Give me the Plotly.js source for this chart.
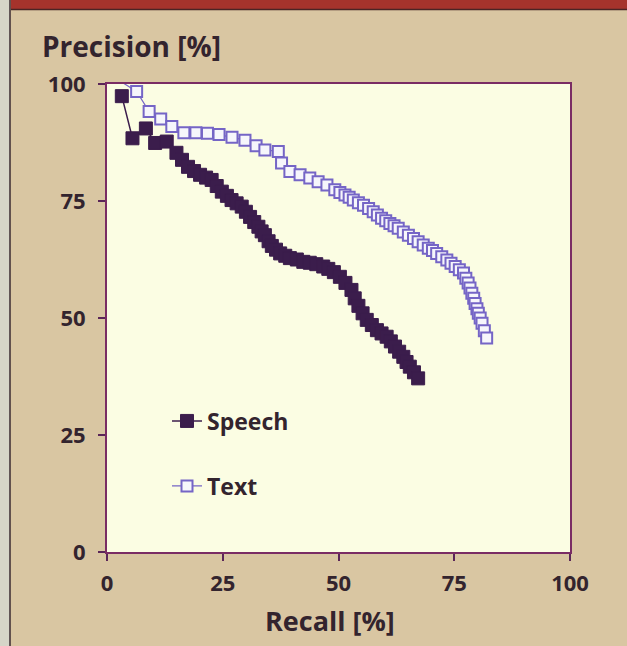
<!DOCTYPE html>
<html>
<head>
<meta charset="utf-8">
<script src="https://cdn.plot.ly/plotly-3.0.1.min.js"></script>
<style>
html,body{margin:0;padding:0;background:#d9c6a2;}
#chart{width:627px;height:646px;}
</style>
</head>
<body>
<div id="chart"></div>
<script>
// Speech series (Recall %, Precision %)
const speechRecall = [3.2, 5.5, 8.4, 10.4, 12.9, 15.0, 16.2, 17.5, 18.8, 20.1, 21.4, 22.6, 23.7, 24.8, 25.9, 26.9, 28.0, 29.1, 30.0, 30.9, 31.8, 32.7, 33.4, 34.1, 34.9, 35.6, 36.5, 37.4, 38.5, 39.5, 41.0, 42.4, 43.8, 45.2, 46.7, 47.8, 49.0, 50.3, 51.5, 52.8, 53.5, 54.3, 55.2, 56.1, 57.2, 58.3, 59.3, 60.4, 61.3, 62.2, 63.1, 64.0, 64.7, 65.4, 66.3, 67.2];
const speechPrecision = [97.4, 88.4, 90.5, 87.4, 87.7, 85.3, 83.8, 82.3, 81.4, 80.6, 80.0, 79.5, 78.2, 77.0, 76.1, 75.2, 74.5, 73.8, 72.7, 71.6, 70.5, 69.5, 68.5, 67.7, 66.4, 65.4, 64.6, 63.8, 63.3, 62.8, 62.5, 62.0, 61.8, 61.5, 61.0, 60.5, 59.8, 58.8, 57.5, 56.0, 54.2, 52.6, 51.0, 49.6, 48.5, 47.4, 46.7, 46.0, 45.0, 43.9, 42.8, 41.7, 40.6, 39.6, 38.4, 37.1];

// Text series (Recall %, Precision %)
const textRecall = [3.2, 6.4, 9.1, 11.6, 14.0, 16.6, 19.2, 21.7, 24.2, 27.0, 29.8, 32.2, 34.1, 37.0, 37.7, 39.5, 41.7, 43.8, 45.6, 47.5, 49.2, 50.3, 51.4, 52.3, 53.2, 54.3, 55.4, 56.5, 57.5, 58.4, 59.3, 60.2, 61.1, 62.0, 62.9, 64.0, 65.1, 66.2, 67.2, 68.3, 69.4, 70.3, 71.2, 72.3, 73.4, 74.3, 75.2, 76.1, 77.0, 77.5, 78.0, 78.4, 78.8, 79.2, 79.5, 79.9, 80.2, 80.6, 81.0, 81.5, 82.0];
const textPrecision = [100.4, 98.4, 94.1, 92.5, 90.9, 89.6, 89.6, 89.5, 89.2, 88.6, 88.0, 86.8, 85.9, 85.6, 83.1, 81.3, 80.6, 79.9, 79.1, 78.4, 77.4, 76.8, 76.3, 75.8, 75.2, 74.6, 74.1, 73.4, 72.7, 72.0, 71.3, 70.8, 70.2, 69.7, 69.2, 68.4, 67.7, 67.0, 66.3, 65.6, 64.9, 64.4, 63.8, 63.1, 62.4, 61.7, 61.0, 60.3, 59.6, 58.5, 57.5, 56.4, 55.3, 54.2, 53.1, 52.0, 51.0, 50.0, 48.9, 47.3, 45.7];

const tickVals = [0, 25, 50, 75, 100];
const tickText = ['0', '25', '50', '75', '100'];

const FONT = '"Open Sans", Lato, sans-serif';
const INK = '#33242e';
const SPEECH_C = '#3b1d4c';
const TEXT_C = '#7565c6';

const traces = [
  {
    x: speechRecall, y: speechPrecision, name: 'Speech',
    type: 'scatter', mode: 'lines+markers', cliponaxis: false,
    line: {color: SPEECH_C, width: 1.5},
    marker: {symbol: 'square', size: 13, color: SPEECH_C, line: {color: SPEECH_C, width: 1}},
    legend: 'legend'
  },
  {
    x: textRecall, y: textPrecision, name: 'Text',
    type: 'scatter', mode: 'lines+markers', cliponaxis: false,
    line: {color: TEXT_C, width: 1.2},
    marker: {symbol: 'square', size: 11, color: '#f6f6fb', line: {color: TEXT_C, width: 2}},
    legend: 'legend2'
  }
];

// paper-coordinate helpers for decoration (plot area: px 107..570, py 84..552)
const px = p => (p - 107) / 463;
const py = p => (552 - p) / 468;

const axisCommon = {
  range: [0, 100], autorange: false,
  tickmode: 'array', tickvals: tickVals, ticktext: tickText,
  ticks: 'outside', ticklen: 7, tickwidth: 2, tickcolor: '#5a2658',
  showline: true, linecolor: '#7a2c64', linewidth: 2, mirror: true,
  showgrid: false, zeroline: false,
  tickfont: {family: FONT, size: 22, color: INK, weight: 700},
  fixedrange: true
};

const layout = {
  width: 627, height: 646,
  margin: {l: 107, r: 57, t: 84, b: 94},
  paper_bgcolor: '#d9c6a2',
  plot_bgcolor: '#fbfde3',
  showlegend: true,
  xaxis: Object.assign({}, axisCommon, {ticklabelstandoff: 4}),
  yaxis: Object.assign({}, axisCommon, {ticklabelstandoff: 8}),
  legend: {
    x: px(167), y: py(421), xanchor: 'left', yanchor: 'middle',
    bgcolor: 'rgba(0,0,0,0)', borderwidth: 0,
    font: {family: FONT, size: 23, color: INK, weight: 700}
  },
  legend2: {
    x: px(167), y: py(486), xanchor: 'left', yanchor: 'middle',
    bgcolor: 'rgba(0,0,0,0)', borderwidth: 0,
    font: {family: FONT, size: 23, color: INK, weight: 700}
  },
  annotations: [
    {text: 'Precision [%]', xref: 'paper', yref: 'paper', x: px(40), y: py(46),
     xanchor: 'left', yanchor: 'middle', showarrow: false,
     font: {family: FONT, size: 28, color: INK, weight: 700}},
    {text: 'Recall [%]', xref: 'paper', yref: 'paper', x: px(330), y: py(620),
     xanchor: 'center', yanchor: 'middle', showarrow: false,
     font: {family: FONT, size: 27, color: INK, weight: 700}}
  ],
  shapes: [
    {type: 'rect', xref: 'paper', yref: 'paper', x0: px(0), x1: px(10), y0: py(646), y1: py(0),
     fillcolor: '#d6d5c8', line: {width: 0}, layer: 'below'},
    {type: 'line', xref: 'paper', yref: 'paper', x0: px(10), x1: px(10), y0: py(646), y1: py(0),
     line: {color: '#3a2a30', width: 1.5}, layer: 'below'},
    {type: 'rect', xref: 'paper', yref: 'paper', x0: px(11), x1: px(627), y0: py(9), y1: py(0),
     fillcolor: '#a5332c', line: {width: 0}, layer: 'below'},
    {type: 'line', xref: 'paper', yref: 'paper', x0: px(11), x1: px(627), y0: py(9.5), y1: py(9.5),
     line: {color: '#4a2424', width: 1.5}, layer: 'below'}
  ]
};

Plotly.newPlot('chart', traces, layout, {displayModeBar: false, staticPlot: true});
</script>
</body>
</html>
